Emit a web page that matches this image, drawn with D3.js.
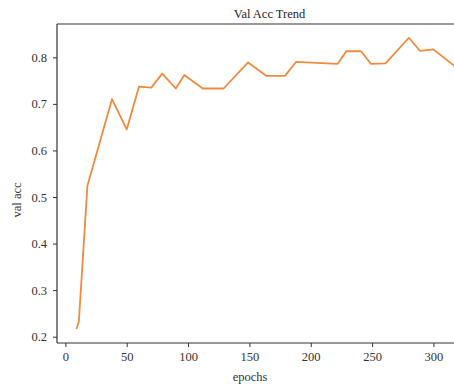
<!DOCTYPE html>
<html>
   <head>
      <script src="https://d3js.org/d3.v7.min.js"></script>
      <title>Val Acc Trend</title>
      <style>
          body { margin: 0; background: #fff; }
          svg { display: block; font-family: "Liberation Serif", "DejaVu Serif", serif; }
      </style>
   </head>
   <body>
      <script>
            // values
            var epochs = [9, 11, 18, 38, 50, 60, 70, 79, 90, 97, 112, 129, 149, 164, 179, 188, 222, 229, 241, 249, 261, 280, 289, 300, 324];
            var valAcc = [0.2165, 0.232, 0.524, 0.710, 0.645, 0.737, 0.735, 0.765, 0.733, 0.762, 0.733, 0.733, 0.789, 0.760, 0.760, 0.790, 0.786, 0.813, 0.813, 0.786, 0.787, 0.842, 0.814, 0.817, 0.767];
            var xTicks = [0, 50, 100, 150, 200, 250, 300];
            var yTicks = [0.2, 0.3, 0.4, 0.5, 0.6, 0.7, 0.8];

            var width = 454, height = 384;
            // plot box runs past the right edge of the picture (cropped like the original)
            var box = { left: 57, top: 24, right: 482, bottom: 343 };

            var svg = d3.select("body").append("svg")
                .attr("width", width)
                .attr("height", height);

            var x = d3.scaleLinear().domain([-6.8, 339.6]).range([box.left, box.right]);
            var y = d3.scaleLinear().domain([0.1865, 0.8715]).range([box.bottom, box.top]);

            var data = epochs.map(function(e, i) { return [e, valAcc[i]]; });

            // line
            svg.append("path")
                .datum(data)
                .attr("d", d3.line().x(function(d) { return x(d[0]); }).y(function(d) { return y(d[1]); }))
                .attr("fill", "none")
                .attr("stroke", "#f28a3e")
                .attr("stroke-width", 1.8)
                .attr("stroke-linejoin", "round");

            // spines: left, bottom, top
            var spine = "#333";
            svg.append("line").attr("x1", box.left).attr("x2", box.left).attr("y1", box.top).attr("y2", box.bottom)
                .attr("stroke", spine).attr("stroke-width", 1.2);
            svg.append("line").attr("x1", box.left).attr("x2", box.right).attr("y1", box.bottom).attr("y2", box.bottom)
                .attr("stroke", spine).attr("stroke-width", 1.2);
            svg.append("line").attr("x1", box.left).attr("x2", box.right).attr("y1", box.top).attr("y2", box.top)
                .attr("stroke", spine).attr("stroke-width", 1.2);

            var xAxis = svg.append("g")
                .attr("transform", "translate(0," + box.bottom + ")")
                .call(d3.axisBottom(x).tickValues(xTicks).tickSize(4).tickPadding(5).tickFormat(d3.format("d")));
            var yAxis = svg.append("g")
                .attr("transform", "translate(" + box.left + ",0)")
                .call(d3.axisLeft(y).tickValues(yTicks).tickSize(4).tickPadding(6).tickFormat(d3.format(".1f")));

            [xAxis, yAxis].forEach(function(a) {
                a.select(".domain").remove();
                a.selectAll(".tick line").attr("stroke", spine).attr("stroke-width", 1);
                a.selectAll("text")
                    .attr("fill", "#333")
                    .style("font-family", "Liberation Serif, serif")
                    .style("font-size", "12.5px");
            });

            svg.append("text")
                .attr("x", 269.5).attr("y", 18)
                .attr("text-anchor", "middle")
                .attr("fill", "#222")
                .style("font-size", "12.5px")
                .text("Val Acc Trend");

            svg.append("text")
                .attr("x", 250).attr("y", 381)
                .attr("text-anchor", "middle")
                .attr("fill", "#333")
                .style("font-size", "12.5px")
                .text("epochs");

            svg.append("text")
                .attr("transform", "translate(21,200) rotate(-90)")
                .attr("text-anchor", "middle")
                .attr("fill", "#333")
                .style("font-size", "12.5px")
                .text("val acc");
      </script>
   </body>
</html>
